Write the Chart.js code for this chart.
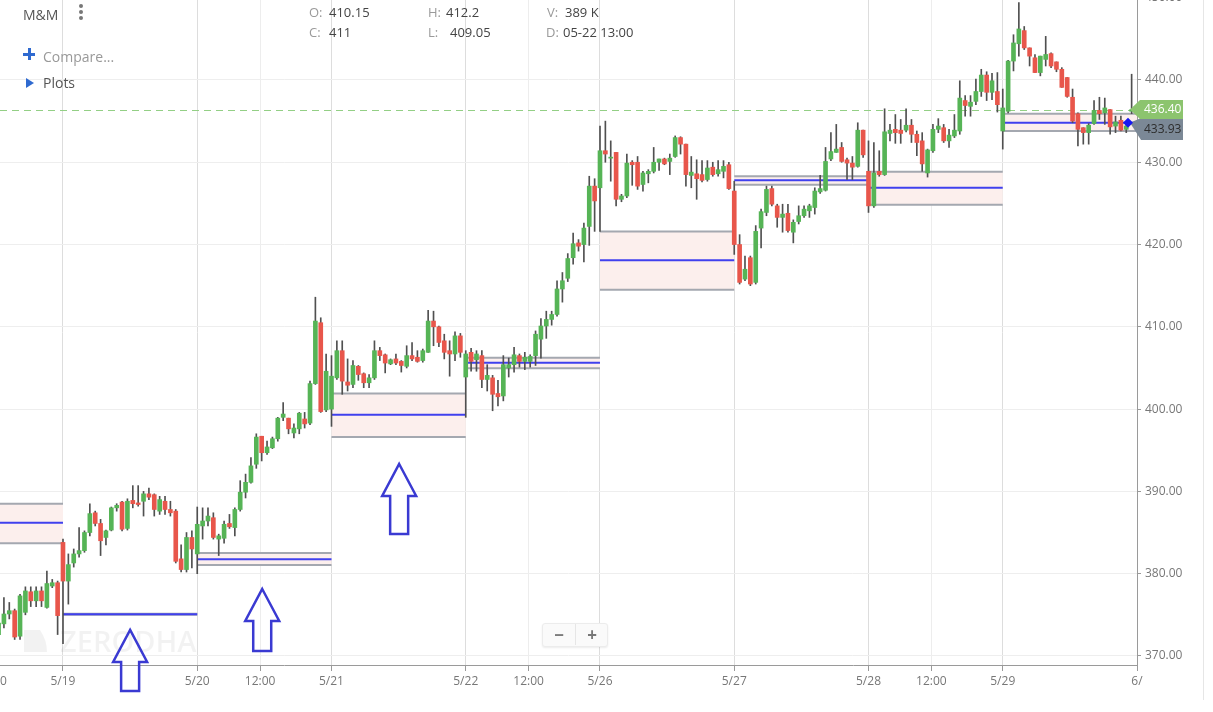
<!DOCTYPE html>
<html>
<head>
<meta charset="utf-8">
<script src="https://cdn.jsdelivr.net/npm/chart.js@4.4.0/dist/chart.umd.min.js"></script>
<style>
html, body { margin: 0; padding: 0; background: #fff; }
#wrap { position: relative; width: 1213px; height: 712px; overflow: hidden; font-family: 'Open Sans', sans-serif; }
#chart { position: absolute; left: 0; top: 0; }
.t { position: absolute; white-space: nowrap; line-height: 18px; }
.lbl { color: #9a9a9a; font-size: 13px; }
.val { color: #444; font-size: 13px; }
.dot { position: absolute; left: 79px; width: 4px; height: 4px; border-radius: 2px; background: #777; }
#zoomBox { position: absolute; left: 542px; top: 623px; width: 64px; height: 22px; background: #fafafa; border: 1px solid #ececec; border-radius: 3px; box-shadow: 0 1px 2px rgba(0,0,0,0.08); }
#zoomBox span { position: absolute; top: 0; width: 32px; text-align: center; line-height: 21px; font-size: 17px; font-weight: 700; color: #777; }
#rightEdge { position: absolute; left: 1203px; top: 0; width: 1px; height: 700px; background: #e6e6e6; }
</style>
</head>
<body>
<div id="wrap">
  <canvas id="chart" width="1213" height="712"></canvas>
  <div id="rightEdge"></div>

  <div class="t" style="left:23px;top:6px;font-size:14px;color:#555;">M&amp;M</div>
  <div class="dot" style="top:4px"></div>
  <div class="dot" style="top:10px"></div>
  <div class="dot" style="top:16px"></div>

  <div style="position:absolute;left:23px;top:53px;width:12px;height:3px;background:#2f6ad0;"></div>
  <div style="position:absolute;left:28px;top:48px;width:3px;height:12px;background:#2f6ad0;"></div>
  <div class="t" style="left:43px;top:48px;font-size:14px;color:#999;">Compare...</div>
  <div style="position:absolute;left:26px;top:78px;width:0;height:0;border-top:5px solid transparent;border-bottom:5px solid transparent;border-left:8px solid #2f6ad0;"></div>
  <div class="t" style="left:43px;top:74px;font-size:14px;color:#555;">Plots</div>

  <div class="t lbl" style="left:309px;top:3px;">O:</div><div class="t val" style="left:329px;top:3px;">410.15</div>
  <div class="t lbl" style="left:309px;top:23px;">C:</div><div class="t val" style="left:329px;top:23px;">411</div>
  <div class="t lbl" style="left:428px;top:3px;">H:</div><div class="t val" style="left:446px;top:3px;">412.2</div>
  <div class="t lbl" style="left:428px;top:23px;">L:</div><div class="t val" style="left:450px;top:23px;">409.05</div>
  <div class="t lbl" style="left:547px;top:3px;">V:</div><div class="t val" style="left:565px;top:3px;">389 K</div>
  <div class="t lbl" style="left:546px;top:23px;">D:</div><div class="t val" style="left:563px;top:23px;">05-22 13:00</div>

  <div id="zoomBox"><span style="left:0">&minus;</span><span style="left:32px;border-left:1px solid #e6e6e6">+</span></div>
</div>

<script>
// candles per trading day, each [open, high, low, close]
const day0518 = [
  [372.6, 374.3, 372.2, 374.0], [373.9, 377.1, 373.4, 375.1], [375.1, 376.5, 374.5, 375.5],
  [375.5, 375.7, 372.0, 372.3], [372.4, 377.5, 372.0, 377.3], [375.3, 378.4, 375.0, 377.9],
  [377.8, 378.4, 376.0, 376.7], [376.7, 378.4, 376.0, 377.9], [377.9, 378.4, 376.0, 376.7],
  [375.9, 380.3, 375.8, 378.8], [378.5, 379.3, 378.3, 378.9], [378.9, 379.1, 372.6, 374.9]
];
const day0519 = [
  [383.8, 384.2, 371.5, 379.1], [379.1, 382.4, 376.3, 381.1], [381.3, 383.0, 380.8, 382.4],
  [382.4, 385.6, 382.0, 382.8], [382.8, 385.2, 382.6, 385.0], [385.0, 388.5, 384.6, 387.3],
  [387.4, 387.6, 385.8, 386.1], [386.1, 386.6, 382.2, 384.0], [384.4, 385.3, 383.5, 385.2],
  [385.3, 388.1, 385.2, 388.0], [388.0, 388.5, 387.6, 388.3], [388.7, 388.8, 385.2, 385.4],
  [385.5, 389.1, 385.3, 388.8], [388.9, 390.7, 388.0, 388.5], [388.6, 390.7, 388.2, 388.4],
  [388.8, 390.0, 387.0, 389.7], [389.7, 390.4, 389.0, 389.3], [389.6, 389.7, 387.0, 387.8],
  [387.6, 389.4, 387.2, 389.0], [388.8, 389.4, 387.2, 387.8], [387.8, 388.8, 387.0, 387.4],
  [387.6, 387.8, 381.3, 381.5], [381.8, 383.5, 380.2, 380.5], [380.5, 385.0, 380.2, 384.4],
  [384.4, 385.2, 380.7, 383.0]
];
const day0520 = [
  [382.4, 388.1, 380.0, 386.0], [385.8, 388.0, 384.2, 386.4], [386.4, 388.0, 385.8, 387.0],
  [386.8, 387.4, 384.2, 384.4], [384.2, 384.8, 382.2, 384.6], [384.3, 386.4, 383.7, 386.0],
  [386.1, 387.2, 385.5, 385.7], [385.6, 388.0, 384.6, 387.8], [387.8, 391.3, 387.6, 389.9],
  [389.9, 392.1, 389.2, 391.1], [391.1, 394.1, 391.0, 393.1], [393.3, 397.0, 392.8, 396.6],
  [396.7, 396.7, 393.7, 394.7], [394.7, 396.1, 394.5, 395.4], [395.3, 396.6, 395.2, 396.4],
  [396.4, 399.0, 396.1, 398.9], [399.0, 400.8, 398.6, 399.4], [398.9, 398.9, 397.0, 397.6],
  [397.1, 398.2, 396.5, 397.7], [397.6, 399.6, 397.0, 399.5], [398.8, 399.6, 397.7, 398.2],
  [398.3, 403.4, 398.1, 403.1], [403.1, 413.6, 403.0, 410.7], [410.5, 411.1, 399.6, 399.7],
  [399.9, 406.7, 399.7, 404.6]
];
const day0521 = [
  [400.0, 406.5, 397.9, 404.0], [403.8, 408.3, 403.6, 407.1], [407.1, 408.3, 401.8, 403.4],
  [403.3, 406.1, 402.2, 402.9], [403.0, 405.9, 402.6, 405.3], [405.2, 405.3, 403.5, 404.2],
  [404.3, 404.4, 402.6, 403.2], [403.2, 404.2, 402.6, 403.8], [403.8, 408.3, 403.6, 407.1],
  [407.1, 407.5, 405.9, 406.5], [406.6, 406.7, 404.4, 405.6], [405.5, 406.1, 405.4, 406.0],
  [406.1, 406.7, 405.4, 405.6], [405.8, 405.9, 404.5, 405.3], [405.2, 407.7, 405.0, 406.5],
  [406.5, 408.1, 405.9, 406.1], [406.3, 407.1, 405.7, 405.8], [405.9, 407.3, 405.7, 407.1],
  [406.9, 412.0, 406.9, 410.7], [410.7, 411.9, 407.7, 410.0], [410.0, 410.1, 407.6, 408.1],
  [408.3, 409.1, 406.1, 406.9], [407.1, 408.3, 404.0, 406.7], [406.7, 409.4, 405.9, 408.9],
  [408.9, 409.2, 406.3, 406.9]
];
const day0522 = [
  [403.9, 407.1, 399.0, 406.7], [406.9, 407.4, 404.6, 405.8], [406.0, 407.1, 404.6, 406.7],
  [406.5, 407.1, 402.6, 403.6], [403.6, 405.4, 402.2, 404.1], [403.8, 404.1, 399.8, 401.8],
  [401.9, 403.5, 400.4, 401.5], [401.6, 406.5, 401.0, 405.4], [405.0, 406.2, 403.9, 405.4],
  [405.4, 407.5, 404.5, 406.6], [406.5, 406.7, 405.1, 405.8], [405.8, 406.9, 404.8, 406.3],
  [405.8, 406.6, 405.1, 406.4], [406.5, 409.5, 405.3, 409.1], [408.5, 411.0, 406.2, 410.1],
  [410.1, 411.9, 408.6, 410.9], [410.9, 411.9, 410.2, 411.5], [411.5, 415.6, 411.3, 414.6],
  [414.6, 416.6, 413.0, 415.6], [415.9, 418.9, 415.5, 418.3], [418.4, 421.4, 417.6, 420.1],
  [420.2, 420.6, 419.2, 419.8], [420.0, 422.6, 417.9, 422.0], [422.2, 428.3, 419.9, 427.1],
  [427.1, 428.0, 421.6, 425.3]
];
const day0526 = [
  [426.9, 434.4, 421.6, 431.4], [431.4, 435.0, 430.0, 431.0], [430.5, 432.6, 427.7, 430.6],
  [431.2, 431.2, 424.7, 425.5], [425.5, 426.1, 425.2, 425.9], [425.9, 431.0, 425.7, 429.9],
  [430.0, 430.2, 427.2, 429.7], [430.0, 430.7, 426.7, 427.1], [427.3, 428.9, 426.5, 428.7],
  [428.6, 429.1, 427.5, 428.9], [428.9, 431.8, 428.7, 430.0], [430.0, 430.4, 429.0, 430.4],
  [430.4, 430.5, 429.7, 429.8], [430.1, 431.0, 428.5, 430.5], [430.7, 433.2, 430.6, 433.0],
  [433.0, 433.1, 431.0, 432.2], [432.2, 432.2, 427.1, 428.5], [428.4, 430.7, 426.9, 428.8],
  [428.6, 430.3, 425.5, 428.0], [428.5, 430.2, 427.6, 427.8], [427.9, 430.2, 427.7, 429.3],
  [429.4, 430.0, 428.3, 428.5], [428.6, 430.2, 428.3, 429.1], [428.9, 430.2, 428.1, 429.5],
  [429.7, 430.0, 426.7, 426.8]
];
const day0527 = [
  [426.5, 427.7, 418.8, 420.0], [420.0, 421.2, 415.2, 415.4], [415.8, 418.6, 415.6, 417.0],
  [418.4, 418.6, 415.0, 415.2], [415.4, 422.3, 415.2, 421.6], [422.0, 424.3, 419.6, 424.0],
  [423.9, 427.1, 423.5, 426.7], [426.8, 427.1, 424.7, 424.9], [424.7, 424.9, 422.1, 423.3],
  [423.3, 424.9, 421.5, 423.7], [423.8, 424.9, 421.5, 421.7], [421.5, 423.0, 420.2, 422.7],
  [422.8, 424.7, 422.5, 423.5], [423.5, 424.7, 423.3, 424.3], [424.1, 424.9, 423.3, 424.7],
  [424.5, 426.9, 423.7, 426.5], [426.4, 428.4, 426.2, 426.8], [426.6, 431.8, 426.5, 430.1],
  [430.4, 433.6, 430.2, 431.3], [431.2, 434.6, 431.2, 431.6], [431.8, 432.4, 430.0, 430.1],
  [430.3, 430.5, 427.9, 429.9], [429.9, 430.7, 427.9, 429.4], [429.5, 434.8, 429.4, 433.9],
  [433.9, 433.9, 430.6, 430.9]
];
const day0528 = [
  [428.9, 432.6, 423.9, 424.7], [424.7, 432.4, 424.5, 428.7], [428.9, 431.4, 428.3, 428.5],
  [428.5, 436.5, 428.4, 433.7], [433.5, 434.6, 432.6, 433.9], [434.0, 435.8, 432.3, 433.6],
  [433.9, 435.2, 432.3, 433.5], [433.9, 436.5, 433.7, 434.5], [434.5, 435.2, 432.4, 433.4],
  [433.4, 433.8, 430.8, 432.4], [432.6, 433.6, 428.9, 429.8], [428.7, 431.6, 428.2, 431.5],
  [431.4, 434.6, 431.2, 434.0], [434.0, 435.3, 433.6, 434.4], [434.2, 434.6, 432.4, 432.6],
  [432.6, 434.0, 431.8, 433.3], [433.2, 435.8, 433.0, 433.9], [433.8, 439.9, 433.4, 437.8],
  [437.5, 438.1, 435.6, 436.9], [436.8, 438.1, 435.6, 437.3], [437.4, 440.1, 437.0, 438.6],
  [438.6, 441.3, 438.0, 440.6], [440.6, 441.0, 437.5, 438.5], [438.5, 440.8, 437.6, 439.9],
  [438.6, 440.9, 436.1, 437.0]
];
const day0529 = [
  [433.8, 438.9, 431.6, 436.6], [436.2, 442.4, 436.0, 442.3], [442.3, 445.5, 441.1, 444.5],
  [444.4, 449.4, 442.9, 446.2], [446.0, 446.5, 443.7, 443.9], [443.9, 443.9, 441.7, 442.9],
  [442.7, 443.1, 440.9, 440.9], [440.9, 442.9, 440.5, 442.9], [442.5, 445.3, 441.7, 443.1],
  [443.2, 443.3, 441.5, 441.7], [442.2, 442.2, 441.0, 441.3], [441.3, 441.5, 439.1, 439.1],
  [440.3, 440.3, 437.9, 438.0], [437.9, 438.9, 434.8, 435.0], [435.9, 436.0, 432.0, 434.0],
  [434.2, 434.2, 432.2, 433.6], [433.6, 434.7, 432.2, 434.5], [434.7, 437.5, 434.6, 436.3],
  [436.3, 437.9, 435.2, 435.9], [436.0, 437.8, 434.6, 436.6], [436.4, 436.4, 433.4, 434.3],
  [434.4, 435.6, 433.6, 434.9], [435.1, 435.6, 433.8, 433.9], [434.0, 434.8, 433.6, 434.4],
  [436.2, 440.7, 435.9, 436.4]
];
const days = [day0518, day0519, day0520, day0521, day0522, day0526, day0527, day0528, day0529];

// x axis labels (one per day start) and which days also show 12:00
const dayLabels = ['5/18', '5/19', '5/20', '5/21', '5/22', '5/26', '5/27', '5/28', '5/29', '6/'];
const noonDays = [0, 2, 4, 7];
const yTicks = [370, 380, 390, 400, 410, 420, 430, 440, 450];

// previous-day value area per day: top, middle line, bottom
const areaTop = [388.5, 375.12, 382.5, 401.9, 406.24, 421.6, 428.3, 428.85, 435.9];
const areaMid = [386.2, 375.06, 381.75, 399.3, 405.64, 418.1, 427.8, 426.9, 434.8];
const areaBot = [383.7, 375.0, 381.05, 396.6, 404.95, 414.5, 427.27, 424.84, 433.8];

const lastPrice = 436.40;
const refPrice = 433.93;

// hand-drawn arrows: tip position in data units, length in px
const arrows = [
  { x: 37.5, y: 373.16, len: 61 },
  { x: 62.1, y: 378.14, len: 62 },
  { x: 87.6, y: 393.33, len: 70 }
];

const SLOTS = 25;      // 15 minute candles per session
const NOON = 11.7;     // 12:00 position inside a session
const GREEN = '#56b456';
const RED = '#e8564b';
const Y_MIN = 368.9;
const Y_MAX = 449.72;

const wicks = [];
const bodies = [];
days.forEach((day, d) => {
  const first = d === 0 ? SLOTS - day.length : 0;
  day.forEach((c, i) => {
    const x = d * SLOTS + first + i;
    wicks.push({ x: x, y: [c[2], c[1]] });
    bodies.push({ x: x, y: [c[0], c[3]], up: c[3] >= c[0] });
  });
});

const xTicks = [];
dayLabels.forEach((lab, d) => {
  xTicks.push({ value: d * SLOTS, label: lab, major: true });
  if (noonDays.includes(d)) xTicks.push({ value: d * SLOTS + NOON, label: '12:00', major: false });
});
xTicks.sort((a, b) => a.value - b.value);

const overlays = {
  id: 'overlays',
  beforeDatasetsDraw(chart) {
    const { ctx, chartArea: a, scales: { x, y } } = chart;
    ctx.save();

    // watermark
    ctx.fillStyle = 'rgba(0,0,0,0.05)';
    ctx.beginPath();
    ctx.moveTo(24, 630); ctx.lineTo(40, 630);
    ctx.quadraticCurveTo(47, 640, 47, 652); ctx.lineTo(24, 652); ctx.closePath();
    ctx.fill();
    ctx.font = '600 29px "Open Sans"';
    ctx.textBaseline = 'alphabetic';
    ctx.fillText('ZERODHA', 60, 652);

    ctx.beginPath();
    ctx.rect(a.left, a.top, a.right - a.left, a.bottom - a.top);
    ctx.clip();

    areaTop.forEach((top, d) => {
      const x1 = x.getPixelForValue(d * SLOTS);
      const x2 = x.getPixelForValue((d + 1) * SLOTS);
      const yt = y.getPixelForValue(top);
      const yb = y.getPixelForValue(areaBot[d]);
      const ym = y.getPixelForValue(areaMid[d]);
      ctx.fillStyle = '#fcefed';
      ctx.fillRect(x1, yt, x2 - x1, yb - yt);
      ctx.lineWidth = 2;
      ctx.strokeStyle = '#a4a8b0';
      ctx.beginPath();
      ctx.moveTo(x1, yt); ctx.lineTo(x2, yt);
      ctx.moveTo(x1, yb); ctx.lineTo(x2, yb);
      ctx.stroke();
      ctx.strokeStyle = '#4040ee';
      ctx.beginPath();
      ctx.moveTo(x1, ym); ctx.lineTo(x2, ym);
      ctx.stroke();
    });

    const yl = Math.round(y.getPixelForValue(lastPrice)) + 0.5;
    ctx.strokeStyle = '#93cf85';
    ctx.lineWidth = 1;
    ctx.setLineDash([7, 5]);
    ctx.beginPath();
    ctx.moveTo(a.left, yl); ctx.lineTo(a.right, yl);
    ctx.stroke();
    ctx.restore();
  },
  afterDraw(chart) {
    const { ctx, chartArea: a, scales: { x, y } } = chart;
    ctx.save();

    // tick labels above the visible range are cut by the top edge
    ctx.fillStyle = '#777';
    ctx.font = '12px "Open Sans"';
    ctx.textBaseline = 'middle';
    yTicks.filter(v => v > Y_MAX).forEach(v => {
      ctx.fillText(v.toFixed(2), a.right + 8, y.getPixelForValue(v));
    });

    // arrows
    ctx.strokeStyle = '#3a3ad2';
    ctx.lineWidth = 2.5;
    ctx.lineJoin = 'miter';
    arrows.forEach(ar => {
      const cx = x.getPixelForValue(ar.x);
      const ty = y.getPixelForValue(ar.y);
      const hb = ty + 32, by = ty + ar.len;
      ctx.beginPath();
      ctx.moveTo(cx, ty);
      ctx.lineTo(cx + 17, hb); ctx.lineTo(cx + 9, hb); ctx.lineTo(cx + 9, by);
      ctx.lineTo(cx - 9, by); ctx.lineTo(cx - 9, hb); ctx.lineTo(cx - 17, hb);
      ctx.closePath();
      ctx.stroke();
    });

    // price tags on the axis
    const tipX = a.right - 7;
    const ym = y.getPixelForValue(areaMid[areaMid.length - 1]);
    const yr = y.getPixelForValue(refPrice);
    ctx.fillStyle = '#7b8896';
    ctx.beginPath();
    ctx.moveTo(tipX, ym);
    ctx.lineTo(tipX + 11, yr - 12); ctx.lineTo(1183, yr - 12);
    ctx.lineTo(1183, yr + 10); ctx.lineTo(tipX + 11, yr + 10);
    ctx.closePath();
    ctx.fill();
    ctx.fillStyle = '#2d2d2d';
    ctx.fillText(refPrice.toFixed(2), 1144, yr);

    const yl = y.getPixelForValue(lastPrice);
    ctx.fillStyle = '#8cc46e';
    ctx.beginPath();
    ctx.moveTo(tipX, yl);
    ctx.lineTo(tipX + 10, yl - 9.5); ctx.lineTo(1183, yl - 9.5);
    ctx.lineTo(1183, yl + 9.5); ctx.lineTo(tipX + 10, yl + 9.5);
    ctx.closePath();
    ctx.fill();
    ctx.fillStyle = '#fff';
    ctx.fillText(lastPrice.toFixed(2), 1144, yl);

    // marker on the value area line
    ctx.fillStyle = '#1818f0';
    ctx.beginPath();
    ctx.moveTo(tipX - 2, ym - 5); ctx.lineTo(tipX + 3, ym);
    ctx.lineTo(tipX - 2, ym + 5); ctx.lineTo(tipX - 7, ym);
    ctx.closePath();
    ctx.fill();
    ctx.restore();
  }
};

new Chart(document.getElementById('chart'), {
  type: 'bar',
  data: {
    datasets: [
      {
        label: 'wick',
        data: wicks,
        backgroundColor: '#505050',
        barThickness: 1,
        grouped: false,
        order: 2
      },
      {
        label: 'body',
        data: bodies,
        backgroundColor: ctx => (ctx.raw && ctx.raw.up ? GREEN : RED),
        barThickness: 4,
        minBarLength: 1,
        grouped: false,
        order: 1
      }
    ]
  },
  options: {
    responsive: false,
    animation: false,
    devicePixelRatio: 1,
    layout: { padding: 0 },
    plugins: { legend: { display: false }, tooltip: { enabled: false } },
    scales: {
      x: {
        type: 'linear',
        min: 13.27,
        max: 225,
        offset: false,
        afterBuildTicks: axis => { axis.ticks = xTicks.map(t => ({ value: t.value })); },
        afterFit: axis => { axis.height = 47; axis.paddingLeft = 0; axis.paddingRight = 0; },
        ticks: {
          autoSkip: false,
          maxRotation: 0,
          padding: 3,
          color: '#777',
          font: { family: 'Open Sans', size: 12 },
          callback: (v) => { const t = xTicks.find(k => k.value === v); return t ? t.label : ''; }
        },
        grid: {
          offset: false,
          color: ctx => {
            const t = xTicks.find(k => ctx.tick && k.value === ctx.tick.value);
            return t && t.major ? '#dddddd' : '#ededed';
          },
          tickLength: 6,
          tickColor: '#9a9a9a'
        },
        border: { color: '#9a9a9a' }
      },
      y: {
        position: 'right',
        min: Y_MIN,
        max: Y_MAX,
        afterBuildTicks: axis => { axis.ticks = yTicks.filter(v => v <= Y_MAX).map(v => ({ value: v })); },
        afterFit: axis => { axis.width = 76; axis.paddingTop = 0; axis.paddingBottom = 0; },
        ticks: {
          padding: 4,
          color: '#777',
          font: { family: 'Open Sans', size: 12 },
          callback: v => v.toFixed(2)
        },
        grid: { color: '#eeeeee', tickLength: 4, tickColor: '#9a9a9a' },
        border: { color: '#9a9a9a' }
      }
    }
  },
  plugins: [overlays]
});
</script>
</body>
</html>
